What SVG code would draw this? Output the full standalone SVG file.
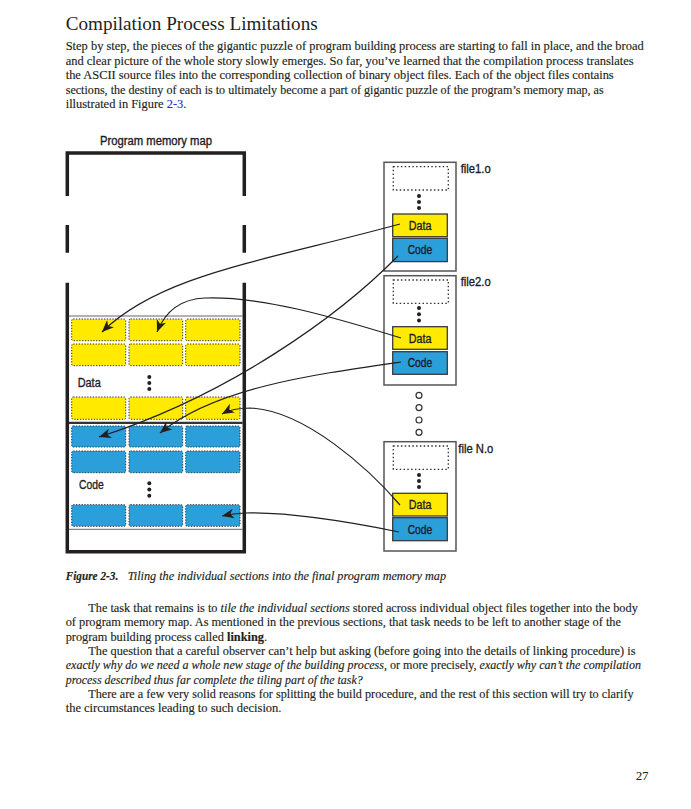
<svg xmlns="http://www.w3.org/2000/svg" width="691" height="809" viewBox="0 0 691 809">
<style>
  .body { font-family: "Liberation Serif", "Times New Roman", serif; font-size: 12px; fill: #231f20; stroke: #231f20; stroke-width: 0.15; }
  .it { font-style: italic; }
  .bd { font-weight: bold; }
  .link { fill: #2b2bd9; stroke: #2b2bd9; }
  .lbl { font-family: "Liberation Sans", Arial, sans-serif; font-size: 12.5px; fill: #1c1c28; stroke: #1c1c28; stroke-width: 0.35; }
  .frame { fill: none; stroke: #231f20; stroke-width: 3.5; }
  .ytile { fill: #ffea00; stroke: #333; stroke-width: 1; stroke-dasharray: 1.3 1.5; }
  .btile { fill: #2a9fda; stroke: #333; stroke-width: 1; stroke-dasharray: 1.3 1.5; }
  .fbox { fill: #fff; stroke: #555; stroke-width: 1.5; }
  .dsec { fill: #ffea00; stroke: #3a3a3a; stroke-width: 1.3; }
  .csec { fill: #2a9fda; stroke: #3a3a3a; stroke-width: 1.3; }
  .dot { fill: none; stroke: #333; stroke-width: 1.3; stroke-dasharray: 1.5 2.3; }
  .conn { fill: none; stroke: #231f20; stroke-width: 1.2; }
</style>
<defs>
  <marker id="ah" viewBox="0 0 12 10" refX="12" refY="5" markerWidth="12" markerHeight="10" markerUnits="userSpaceOnUse" orient="auto">
    <path d="M0,0 L12,5 L0,10 L3.5,5 Z" fill="#231f20"/>
  </marker>
</defs>
<rect width="691" height="809" fill="#fff"/>

<!-- page text -->
<g id="page-text">
  <text x="65.7" y="29.5" font-family="Liberation Serif, serif" font-size="19" fill="#231f20" textLength="252" lengthAdjust="spacingAndGlyphs">Compilation Process Limitations</text>
  <text class="body" x="65.7" y="50" textLength="578" lengthAdjust="spacingAndGlyphs">Step by step, the pieces of the gigantic puzzle of program building process are starting to fall in place, and the broad</text>
  <text class="body" x="65.7" y="64.5" textLength="568" lengthAdjust="spacingAndGlyphs">and clear picture of the whole story slowly emerges. So far, you’ve learned that the compilation process translates</text>
  <text class="body" x="65.7" y="79.2" textLength="548" lengthAdjust="spacingAndGlyphs">the ASCII source files into the corresponding collection of binary object files. Each of the object files contains</text>
  <text class="body" x="65.7" y="93.7" textLength="538" lengthAdjust="spacingAndGlyphs">sections, the destiny of each is to ultimately become a part of gigantic puzzle of the program’s memory map, as</text>
  <text class="body" x="65.7" y="108.3" textLength="120.7" lengthAdjust="spacingAndGlyphs">illustrated in Figure <tspan class="link">2-3</tspan>.</text>

  <text class="body bd it" x="65.7" y="580" textLength="52.6" lengthAdjust="spacingAndGlyphs">Figure 2-3.</text>
  <text class="body it" x="127.7" y="580" textLength="318.3" lengthAdjust="spacingAndGlyphs">Tiling the individual sections into the final program memory map</text>

  <text class="body" x="88.3" y="612" textLength="549.5" lengthAdjust="spacingAndGlyphs">The task that remains is to <tspan class="it">tile the individual sections</tspan> stored across individual object files together into the body</text>
  <text class="body" x="65.7" y="626.3" textLength="555.3" lengthAdjust="spacingAndGlyphs">of program memory map. As mentioned in the previous sections, that task needs to be left to another stage of the</text>
  <text class="body" x="65.7" y="640.7" textLength="201.3" lengthAdjust="spacingAndGlyphs">program building process called <tspan class="bd">linking</tspan>.</text>
  <text class="body" x="88.3" y="655" textLength="547.2" lengthAdjust="spacingAndGlyphs">The question that a careful observer can’t help but asking (before going into the details of linking procedure) is</text>
  <text class="body" x="65.7" y="669.3" textLength="575.3" lengthAdjust="spacingAndGlyphs"><tspan class="it">exactly why do we need a whole new stage of the building process</tspan>, or more precisely, <tspan class="it">exactly why can’t the compilation</tspan></text>
  <text class="body it" x="65.7" y="683.7" textLength="297" lengthAdjust="spacingAndGlyphs">process described thus far complete the tiling part of the task?</text>
  <text class="body" x="88.3" y="698" textLength="545.3" lengthAdjust="spacingAndGlyphs">There are a few very solid reasons for splitting the build procedure, and the rest of this section will try to clarify</text>
  <text class="body" x="65.7" y="712.3" textLength="215.8" lengthAdjust="spacingAndGlyphs">the circumstances leading to such decision.</text>

  <text class="body" x="636" y="780" textLength="12.3" lengthAdjust="spacingAndGlyphs">27</text>
</g>

<!-- program memory map -->
<g id="memory-map">
  <text class="lbl" x="100" y="145" textLength="112" lengthAdjust="spacingAndGlyphs">Program memory map</text>
  <path class="frame" d="M67.3,196 V153 H244.3 V196 M67.3,225 V252.7 M244.3,225 V252.7 M67.3,282.7 V551.7 H244.3 V282.7"/>
  <line x1="69" y1="316" x2="242.6" y2="316" stroke="#666" stroke-width="1"/>
  <line x1="69" y1="529.3" x2="242.6" y2="529.3" stroke="#666" stroke-width="1"/>
  <line x1="69" y1="422.8" x2="242.6" y2="422.8" stroke="#333" stroke-width="2.3"/>
</g>

<g id="data-section">
  <rect class="ytile" x="71.7" y="319" width="54" height="21.7" rx="1.5"/>
  <rect class="ytile" x="129" y="319" width="53.7" height="21.7" rx="1.5"/>
  <rect class="ytile" x="185.7" y="319" width="54.3" height="21.7" rx="1.5"/>
  <rect class="ytile" x="71.7" y="344" width="54" height="21.7" rx="1.5"/>
  <rect class="ytile" x="129" y="344" width="53.7" height="21.7" rx="1.5"/>
  <rect class="ytile" x="185.7" y="344" width="54.3" height="21.7" rx="1.5"/>
  <text class="lbl" x="77.7" y="387" textLength="23" lengthAdjust="spacingAndGlyphs">Data</text>
  <circle cx="149.3" cy="377" r="2" fill="#231f20"/>
  <circle cx="149.3" cy="383" r="2" fill="#231f20"/>
  <circle cx="149.3" cy="389" r="2" fill="#231f20"/>
  <rect class="ytile" x="71.7" y="397" width="54" height="22.3" rx="1.5"/>
  <rect class="ytile" x="129" y="397" width="53.7" height="22.3" rx="1.5"/>
  <rect class="ytile" x="185.7" y="397" width="54.3" height="22.3" rx="1.5"/>
</g>

<g id="code-section">
  <rect class="btile" x="71.7" y="426" width="54" height="21" rx="1.5"/>
  <rect class="btile" x="129" y="426" width="53.7" height="21" rx="1.5"/>
  <rect class="btile" x="185.7" y="426" width="54.3" height="21" rx="1.5"/>
  <rect class="btile" x="71.7" y="451" width="54" height="21.7" rx="1.5"/>
  <rect class="btile" x="129" y="451" width="53.7" height="21.7" rx="1.5"/>
  <rect class="btile" x="185.7" y="451" width="54.3" height="21.7" rx="1.5"/>
  <text class="lbl" x="79" y="489" textLength="24.7" lengthAdjust="spacingAndGlyphs">Code</text>
  <circle cx="149.3" cy="483.3" r="2" fill="#231f20"/>
  <circle cx="149.3" cy="489.5" r="2" fill="#231f20"/>
  <circle cx="149.3" cy="495.7" r="2" fill="#231f20"/>
  <rect class="btile" x="71.7" y="504.7" width="54" height="21.6" rx="1.5"/>
  <rect class="btile" x="129" y="504.7" width="53.7" height="21.6" rx="1.5"/>
  <rect class="btile" x="185.7" y="504.7" width="54.3" height="21.6" rx="1.5"/>
</g>

<!-- object files -->
<g id="file1">
  <rect class="fbox" x="384" y="162.3" width="72" height="108.7"/>
  <rect class="dot" x="393.3" y="166.7" width="55" height="23.3"/>
  <circle cx="419" cy="196" r="2" fill="#231f20"/>
  <circle cx="419" cy="202" r="2" fill="#231f20"/>
  <circle cx="419" cy="208" r="2" fill="#231f20"/>
  <rect class="dsec" x="392.7" y="214" width="54.6" height="22.7"/>
  <text class="lbl" x="420.2" y="230" text-anchor="middle" textLength="22.7" lengthAdjust="spacingAndGlyphs">Data</text>
  <rect class="csec" x="392.7" y="238.3" width="54.6" height="23.3"/>
  <text class="lbl" x="420" y="253.7" text-anchor="middle" textLength="24.7" lengthAdjust="spacingAndGlyphs">Code</text>
  <text class="lbl" x="460.7" y="172.7" textLength="30" lengthAdjust="spacingAndGlyphs">file1.o</text>
</g>

<g id="file2">
  <rect class="fbox" x="384" y="275.7" width="72" height="109.3"/>
  <rect class="dot" x="393.3" y="280" width="55" height="23.3"/>
  <circle cx="419" cy="308" r="2" fill="#231f20"/>
  <circle cx="419" cy="314.3" r="2" fill="#231f20"/>
  <circle cx="419" cy="320.6" r="2" fill="#231f20"/>
  <rect class="dsec" x="392.7" y="326.7" width="54.6" height="22.6"/>
  <text class="lbl" x="420.2" y="342.7" text-anchor="middle" textLength="22.7" lengthAdjust="spacingAndGlyphs">Data</text>
  <rect class="csec" x="392.7" y="351.7" width="54.6" height="22.6"/>
  <text class="lbl" x="420" y="367.3" text-anchor="middle" textLength="24.7" lengthAdjust="spacingAndGlyphs">Code</text>
  <text class="lbl" x="460.7" y="286" textLength="30" lengthAdjust="spacingAndGlyphs">file2.o</text>
</g>

<g id="more-files">
  <circle cx="419" cy="395.3" r="3" fill="#fff" stroke="#333" stroke-width="1.2"/>
  <circle cx="419" cy="407.6" r="3" fill="#fff" stroke="#333" stroke-width="1.2"/>
  <circle cx="419" cy="420" r="3" fill="#fff" stroke="#333" stroke-width="1.2"/>
  <circle cx="419" cy="432.3" r="3" fill="#fff" stroke="#333" stroke-width="1.2"/>
</g>

<g id="fileN">
  <rect class="fbox" x="384" y="441.7" width="72" height="109.3"/>
  <rect class="dot" x="393.3" y="446" width="55" height="23.3"/>
  <circle cx="419" cy="475" r="2" fill="#231f20"/>
  <circle cx="419" cy="481" r="2" fill="#231f20"/>
  <circle cx="419" cy="487" r="2" fill="#231f20"/>
  <rect class="dsec" x="392.7" y="493.3" width="54.6" height="22.7"/>
  <text class="lbl" x="420.2" y="509.3" text-anchor="middle" textLength="22.7" lengthAdjust="spacingAndGlyphs">Data</text>
  <rect class="csec" x="392.7" y="517.7" width="54.6" height="23"/>
  <text class="lbl" x="420" y="534" text-anchor="middle" textLength="24.7" lengthAdjust="spacingAndGlyphs">Code</text>
  <text class="lbl" x="458.3" y="452.7" textLength="35" lengthAdjust="spacingAndGlyphs">file N.o</text>
</g>

<!-- connectors -->
<g id="connectors">
  <path class="conn" marker-end="url(#ah)" d="M400,224 C260,262 160,275 102,332"/>
  <path class="conn" marker-end="url(#ah)" d="M401,338 C330,316 260,296 205,298 C180,299 165,312 157,332"/>
  <path class="conn" marker-end="url(#ah)" d="M398,256 C340,315 230,395 99,437"/>
  <path class="conn" marker-end="url(#ah)" d="M401,362 C310,375 215,388 160,433"/>
  <path class="conn" marker-end="url(#ah)" d="M400,505 C370,470 305,410 250,408 C238,408 229,410 222,414"/>
  <path class="conn" marker-end="url(#ah)" d="M399,532 C350,522 290,512 245,513 C236,513.3 229,514.5 222,516"/>
</g>
</svg>
